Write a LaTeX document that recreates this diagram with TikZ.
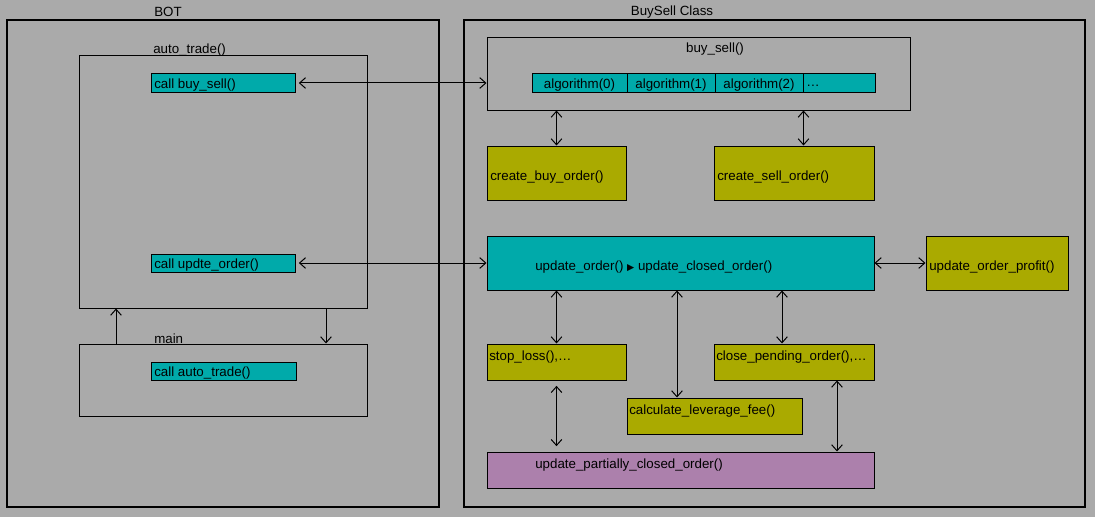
\documentclass[tikz,border=0pt]{standalone}
\usepackage{fontspec}
\setmainfont{Liberation Sans}
\newfontfamily\symfont{DejaVu Sans}
\usetikzlibrary{arrows.meta,fit}

\tikzset{
  frame/.style={draw, line width=1.5pt, inner sep=0pt},
  panel/.style={draw, line width=0.75pt, inner sep=0pt},
  cyanbox/.style={panel, fill={rgb, 255:red, 0; green, 170; blue, 170}},
  olivebox/.style={panel, fill={rgb, 255:red, 170; green, 170; blue, 0}},
  pinkbox/.style={panel, fill={rgb, 255:red, 172; green, 128; blue, 172}},
  txt/.style={inner sep=0.75pt, font=\fontsize{10}{12}\selectfont},
  link/.style={line width=0.75pt, -{Straight Barb[length=4.5pt,width=8pt]}},
  dbl/.style={line width=0.75pt, {Straight Barb[length=4.5pt,width=8pt]}-{Straight Barb[length=4.5pt,width=8pt]}}
}

\begin{document}
\begin{tikzpicture}[x=0.75pt,y=0.75pt,yscale=-1,xscale=1]
%Background
\fill [color={rgb, 255:red, 170; green, 170; blue, 170}] (0,0) rectangle (1095,517);
\useasboundingbox (0,0) rectangle (1095,517);

%Shape: Rectangle [BOT]
\node [frame, fit={(7,20) (439,507)}] (bot) {};
%Shape: Rectangle [BuySell]
\node [frame, fit={(464,20) (1085,507)}] (bsclass) {};
% Text Node
\node [txt] (bottxt) at (168,12) {BOT};
% Text Node
\node [txt] (bstxt) at (672,12) {BuySell Class};

%Shape: Rectangle [auto_trade]
\node [panel, fit={(79,56) (367,308)}] (autotrade) {};
\node [txt, anchor=west] (autotxt) at (152,50) {auto\_trade()};
\node [cyanbox, fit={(151,74) (295,92)}] (callbs) {};
\node [txt, anchor=west] (callbstxt) at (153,85.5) {call buy\_sell()};
\node [cyanbox, fit={(151,254) (295,272)}] (callupd) {};
\node [txt, anchor=west] (callupdtxt) at (153,265.5) {call updte\_order()};

%Shape: Rectangle [main]
\node [panel, fit={(79,344) (367,416)}] (main) {};
\node [txt, anchor=west] (maintxt) at (153,339) {main};
\node [cyanbox, fit={(151,362) (296,380)}] (callauto) {};
\node [txt, anchor=west] (callautotxt) at (153,373.5) {call auto\_trade()};

%Shape: Rectangle [buy_sell]
\node [panel, fit={(487,38) (910,110)}] (buysell) {};
\node [txt] (buyselltxt) at (715,49) {buy\_sell()};
\node [cyanbox, fit={(532,74) (627,92)}] (alg0) {};
\node [cyanbox, fit={(627,74) (715,92)}] (alg1) {};
\node [cyanbox, fit={(715,74) (803,92)}] (alg2) {};
\node [cyanbox, fit={(803,74) (875,92)}] (alg3) {};
\node [txt] (alg0txt) at (579.5,85.5) {algorithm(0)};
\node [txt] (alg1txt) at (671,85.5) {algorithm(1)};
\node [txt] (alg2txt) at (759,85.5) {algorithm(2)};
\node [txt, anchor=west] (alg3txt) at (805,85.5) {…};

\node [olivebox, fit={(487,146) (626,200)}] (buyord) {};
\node [txt, anchor=west] (buyordtxt) at (489,177.5) {create\_buy\_order()};
\node [olivebox, fit={(714,146) (874,200)}] (sellord) {};
\node [txt, anchor=west] (sellordtxt) at (716,177.5) {create\_sell\_order()};

%Shape: Rectangle [update_order]
\node [cyanbox, fit={(487,236) (874,290)}] (updord) {};
\node [txt, anchor=west] (updordtxt) at (534,267) {update\_order() {\symfont\fontsize{7}{8}\selectfont ▶} update\_closed\_order()};
\node [olivebox, fit={(926,236) (1068,290)}] (profit) {};
\node [txt, anchor=west] (profittxt) at (928,267) {update\_order\_profit()};

\node [olivebox, fit={(487,344) (626,380)}] (stoploss) {};
\node [txt, anchor=west] (stoplosstxt) at (488,357.5) {stop\_loss(),…};
\node [olivebox, fit={(714,344) (874,380)}] (pending) {};
\node [txt, anchor=west] (pendingtxt) at (715,357.5) {close\_pending\_order(),…};
\node [olivebox, fit={(627,398) (802,434)}] (levfee) {};
\node [txt, anchor=west] (levfeetxt) at (628,411.5) {calculate\_leverage\_fee()};
\node [pinkbox, fit={(487,452) (874,488)}] (partial) {};
\node [txt, anchor=west] (partialtxt) at (534,465.5) {update\_partially\_closed\_order()};

%Free x positions of connectors
\coordinate (xup) at (116,0);
\coordinate (xdown) at (326,0);
\coordinate (xfee) at (677,0);
\coordinate (xpend) at (782,0);
\coordinate (xpart) at (837,0);

%Straight Lines
\draw [link] (main.north -| xup) -- (autotrade.south -| xup);
\draw [link] (autotrade.south -| xdown) -- (main.north -| xdown);
\draw [dbl, shorten <=2.5pt] (callbs.east) -- (callbs.east -| buysell.west);
\draw [dbl, shorten <=2.5pt] (callupd.east) -- (updord.west);
\draw [dbl] (buysell.south -| buyord.north) -- (buyord.north);
\draw [dbl] (buysell.south -| alg2.east) -- (sellord.north -| alg2.east);
\draw [dbl] (updord.east) -- (profit.west);
\draw [dbl] (updord.south -| stoploss.north) -- (stoploss.north);
\draw [dbl] (updord.south -| xfee) -- (levfee.north -| xfee);
\draw [dbl] (updord.south -| xpend) -- (pending.north -| xpend);
\draw [dbl, shorten <=4pt, shorten >=4pt] (stoploss.south) -- (partial.north -| stoploss.south);
\draw [dbl] (pending.south -| xpart) -- (partial.north -| xpart);
\end{tikzpicture}
\end{document}
